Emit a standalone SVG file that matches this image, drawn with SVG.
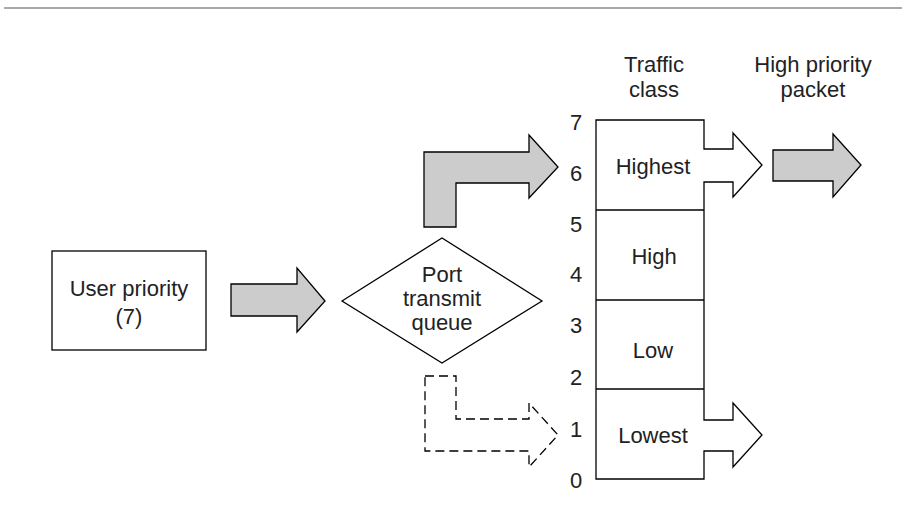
<svg xmlns="http://www.w3.org/2000/svg" width="902" height="529" viewBox="0 0 902 529">
  <style>
    .txt { font-family: "Liberation Sans", Arial, sans-serif; font-size: 22px; fill: #222; text-anchor: middle; }
    .shape { fill: #fff; stroke: #000; stroke-width: 1.3; }
    .grey { fill: #cccccc; stroke: #000; stroke-width: 1.3; stroke-linejoin: miter; }
    .open { fill: #fff; stroke: #000; stroke-width: 1.3; }
    .dash { fill: none; stroke: #000; stroke-width: 1.3; stroke-dasharray: 9 5; }
  </style>

  <!-- header rule -->
  <line x1="4" y1="8" x2="902" y2="8" stroke="#555" stroke-width="1.2"/>

  <g id="user-priority">
    <rect class="shape" x="52" y="251" width="154" height="99"/>
    <text class="txt" x="129" y="296">User priority</text>
    <text class="txt" x="129" y="324">(7)</text>
  </g>

  <g id="port-transmit-queue">
    <polygon class="shape" points="342,301 442,238 542,301 442,363"/>
    <text class="txt" x="442" y="282">Port</text>
    <text class="txt" x="442" y="306">transmit</text>
    <text class="txt" x="442" y="330">queue</text>
  </g>

  <g id="traffic-class">
    <text class="txt" x="654" y="72">Traffic</text>
    <text class="txt" x="654" y="97">class</text>
    <!-- class boxes; right edge opens into the output arrows -->
    <path class="open" d="M596,120 L704,120 L704,149 L733,149 L733,133 L762,165 L733,197 L733,182 L704,182 L704,420 L733,420 L733,403 L762,435 L733,467 L733,451 L704,451 L704,479 L596,479 Z"/>
    <g fill="none" stroke="#000" stroke-width="1.3">
      <line x1="596" y1="210" x2="704" y2="210"/>
      <line x1="596" y1="300" x2="704" y2="300"/>
      <line x1="596" y1="389" x2="704" y2="389"/>
    </g>
    <text class="txt" x="653" y="174">Highest</text>
    <text class="txt" x="654" y="264">High</text>
    <text class="txt" x="653" y="358">Low</text>
    <text class="txt" x="653" y="443">Lowest</text>
    <!-- priority scale -->
    <text class="txt" x="576" y="130">7</text>
    <text class="txt" x="576" y="181">6</text>
    <text class="txt" x="576" y="232">5</text>
    <text class="txt" x="576" y="282">4</text>
    <text class="txt" x="576" y="333">3</text>
    <text class="txt" x="576" y="385">2</text>
    <text class="txt" x="576" y="437">1</text>
    <text class="txt" x="576" y="488">0</text>
  </g>

  <g id="high-priority-packet">
    <text class="txt" x="813" y="72">High priority</text>
    <text class="txt" x="813" y="97">packet</text>
  </g>

  <g id="connectors">
    <path class="grey" d="M231,284 L297,284 L297,268 L325,301 L297,332 L297,316 L231,316 Z"/>
    <path class="grey" d="M424,227 L424,152 L529,152 L529,135 L558,167 L529,198 L529,183 L456,183 L456,227 Z"/>
    <path class="dash" d="M425,376 L456,376 L456,419 L529,419 L529,403 L558,435 L529,467 L529,451 L425,451 Z"/>
    <path class="grey" d="M773,150 L833,150 L833,134 L861,165 L833,197 L833,181 L773,181 Z"/>
  </g>
</svg>
